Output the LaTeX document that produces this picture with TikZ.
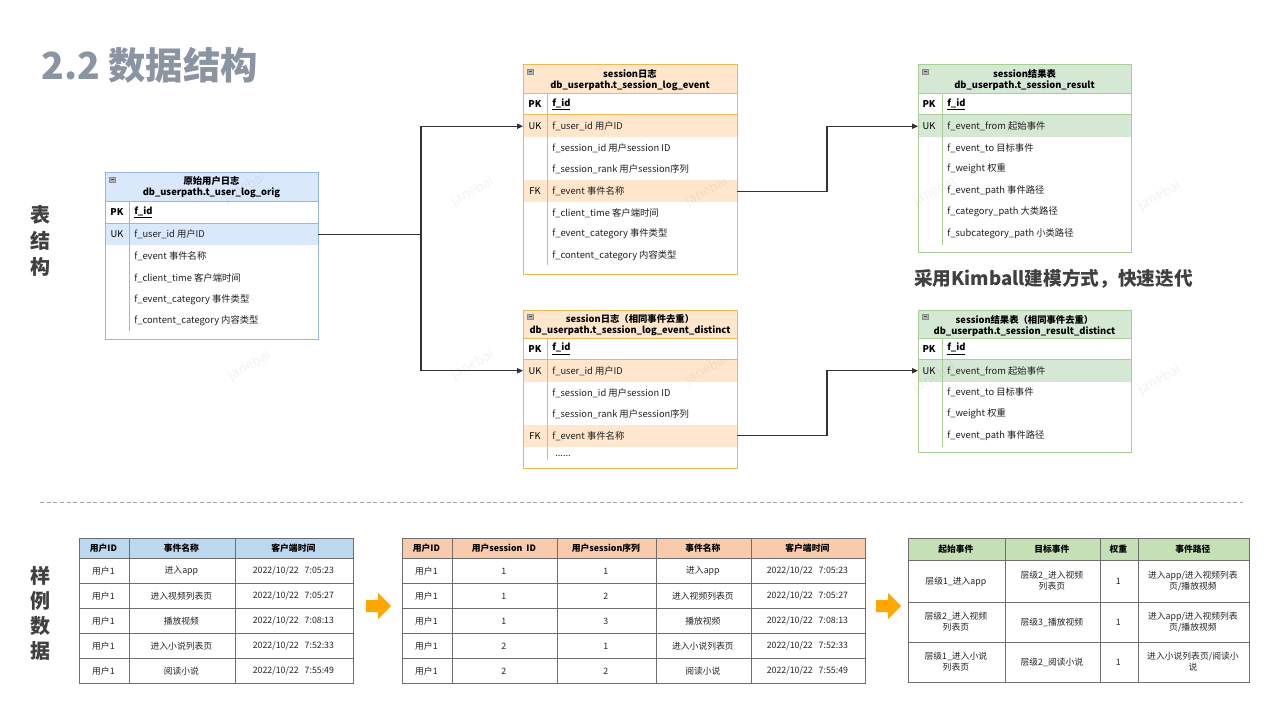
\documentclass[tikz,border=0pt]{standalone}
\usepackage{fontspec}
\setmainfont{Noto Sans CJK SC}
\usetikzlibrary{arrows.meta,fit,matrix,calc}

\definecolor{titlegray}{RGB}{138,149,161}
\definecolor{labelgray}{RGB}{64,64,64}
\definecolor{bluefill}{RGB}{218,232,252}
\definecolor{bluedraw}{RGB}{150,182,228}
\definecolor{orangefill}{RGB}{255,230,204}
\definecolor{orangedraw}{RGB}{236,184,84}
\definecolor{greenfill}{RGB}{213,232,212}
\definecolor{greendraw}{RGB}{168,208,150}
\definecolor{connc}{RGB}{51,51,51}
\definecolor{hdrblue}{RGB}{189,215,238}
\definecolor{hdrorange}{RGB}{248,203,173}
\definecolor{hdrgreen}{RGB}{197,224,180}
\definecolor{gridc}{RGB}{110,110,110}
\definecolor{arroworange}{RGB}{255,166,0}
\definecolor{dashc}{RGB}{160,160,160}

% two centred lines inside one table cell
\newcommand\twoln[2]{\begin{tabular}{@{}c@{}}#1\\#2\end{tabular}}

\tikzset{
  ertitle/.style={font=\fontsize{7}{8.3}\selectfont\bfseries, align=center, text=black, inner sep=0},
  keylbl/.style={font=\fontsize{7}{8}\selectfont, text=black, inner sep=0},
  pklbl/.style={font=\fontsize{7}{8}\selectfont\bfseries, text=black, inner sep=0},
  field/.style={font=\fontsize{7}{8}\selectfont, text=black!88, anchor=west, inner sep=0},
  idfield/.style={font=\fontsize{7}{8}\selectfont\bfseries, text=black, anchor=west, inner sep=0},
  band/.style={inner sep=0, outer sep=0, draw=none},
  bline/.style={line width=0.75pt},
  conn/.style={draw=connc, line width=0.8pt, -{Triangle[length=4.5pt,width=4pt]}},
  minusicon/.style={fill=black!30, draw=black!45, line width=0.3pt},
  cell/.style={draw=gridc, line width=0.6pt, inner sep=1pt, outer sep=0, anchor=center,
    align=center, font=\fontsize{6.6}{8.2}\selectfont, text=black!85,
    minimum height=18.75pt},
  hdrcell/.style={font=\fontsize{6.6}{8.2}\selectfont\bfseries, text=black},
  datatable/.style={matrix of nodes, anchor=north west, inner sep=0pt, outer sep=0pt,
    nodes={cell}, column sep=-0.6pt, row sep=-0.6pt},
  sidelbl/.style={align=center, font=\fontsize{15}{19.5}\selectfont\bfseries, text=labelgray, inner sep=0},
  wm/.style={font=\fontsize{10}{12}\selectfont, text=black, text opacity=0.05, rotate=29, inner sep=0},
}

\begin{document}
\begin{tikzpicture}[x=0.75pt, y=-0.75pt]
\useasboundingbox (0,0) rectangle (1280,720);
\fill[white] (0,0) rectangle (1280,720);

% ---------- headings ----------
\node[anchor=west, font=\fontsize{28}{32}\selectfont\bfseries, text=titlegray, inner sep=0] (title) at (41,65) {2.2 数据结构};
\node[sidelbl] (lblA) at (40,241) {表\\结\\构};
\node[sidelbl, font=\fontsize{15}{18.75}\selectfont\bfseries] (lblB) at (40,613) {样\\例\\数\\据};
\node[anchor=west, font=\fontsize{14}{16}\selectfont\bfseries, text=labelgray, inner sep=0] (kimball) at (914,279) {采用Kimball建模方式，快速迭代};

% ---------- table: raw user log ----------
\fill[bluefill] (105,173) rectangle (318,202);
\node[band, fill=bluefill, fit={(105,224) (318,245)}] (L-uk) {};
\draw[bluedraw, bline] (105,173) rectangle (318,339);
\draw[bluedraw, bline] (105,202) -- (318,202) (105,223.5) -- (318,223.5) (129,202) -- (129,331);
\draw[minusicon] (109,177) rectangle (115,182);
\draw[black!70, line width=0.4pt] (110.5,179.5) -- (113.5,179.5);
\node[ertitle] (L-h) at (211.5,187.5) {原始用户日志\\db\_userpath.t\_user\_log\_orig};
\node[pklbl] (L-pk) at (117,212.5) {PK};
\node[idfield] (L-id) at (134,212.5) {\underline{f\_id}};
\node[keylbl] (L-ukl) at (117,234.5) {UK};
\node[field] (L-f1) at (134,234.5) {f\_user\_id 用户ID};
\node[field] (L-f2) at (134,256) {f\_event 事件名称};
\node[field] (L-f3) at (134,278) {f\_client\_time 客户端时间};
\node[field] (L-f4) at (134,299.5) {f\_event\_category 事件类型};
\node[field] (L-f5) at (134,321) {f\_content\_category 内容类型};

% ---------- table: session log ----------
\fill[orangefill] (523,65) rectangle (737,94);
\node[band, fill=orangefill, fit={(523,115.5) (737,137)}] (M1-uk) {};
\node[band, fill=orangefill, fit={(523,180.5) (737,202)}] (M1-fk) {};
\draw[orangedraw, bline] (523,65) rectangle (737,274);
\draw[orangedraw, bline] (523,94) -- (737,94) (523,115) -- (737,115) (547,94) -- (547,265);
\draw[minusicon] (527,69) rectangle (533,74);
\draw[black!70, line width=0.4pt] (528.5,71.5) -- (531.5,71.5);
\node[ertitle] (M1-h) at (630,80) {session日志\\db\_userpath.t\_session\_log\_event};
\node[pklbl] (M1-pk) at (535,104.5) {PK};
\node[idfield] (M1-id) at (552,104.5) {\underline{f\_id}};
\node[keylbl] (M1-ukl) at (535,126) {UK};
\node[field] (M1-f1) at (552,126) {f\_user\_id 用户ID};
\node[field] (M1-f2) at (552,148) {f\_session\_id 用户session ID};
\node[field] (M1-f3) at (552,169) {f\_session\_rank 用户session序列};
\node[keylbl] (M1-fkl) at (535,191) {FK};
\node[field] (M1-f4) at (552,191) {f\_event 事件名称};
\node[field] (M1-f5) at (552,213) {f\_client\_time 客户端时间};
\node[field] (M1-f6) at (552,234) {f\_event\_category 事件类型};
\node[field] (M1-f7) at (552,256) {f\_content\_category 内容类型};

% ---------- table: session log, duplicates removed ----------
\fill[orangefill] (523,310) rectangle (737,338);
\node[band, fill=orangefill, fit={(523,360) (737,381.5)}] (M2-uk) {};
\node[band, fill=orangefill, fit={(523,425) (737,446.5)}] (M2-fk) {};
\draw[orangedraw, bline] (523,310) rectangle (737,468);
\draw[orangedraw, bline] (523,338) -- (737,338) (523,359.5) -- (737,359.5) (547,338) -- (547,460);
\draw[minusicon] (527,314) rectangle (533,319);
\draw[black!70, line width=0.4pt] (528.5,316.5) -- (531.5,316.5);
\node[ertitle] (M2-h) at (630,325.5) {session日志（相同事件去重）\\db\_userpath.t\_session\_log\_event\_distinct};
\node[pklbl] (M2-pk) at (535,349) {PK};
\node[idfield] (M2-id) at (552,349) {\underline{f\_id}};
\node[keylbl] (M2-ukl) at (535,371) {UK};
\node[field] (M2-f1) at (552,371) {f\_user\_id 用户ID};
\node[field] (M2-f2) at (552,393) {f\_session\_id 用户session ID};
\node[field] (M2-f3) at (552,414) {f\_session\_rank 用户session序列};
\node[keylbl] (M2-fkl) at (535,436) {FK};
\node[field] (M2-f4) at (552,436) {f\_event 事件名称};
\node[field] (M2-f5) at (555,456) {......};

% ---------- table: session result ----------
\fill[greenfill] (918,65) rectangle (1131,94);
\node[band, fill=greenfill, fit={(918,115.5) (1131,137)}] (R1-uk) {};
\draw[greendraw, bline] (918,65) rectangle (1131,252);
\draw[greendraw, bline] (918,94) -- (1131,94) (918,115) -- (1131,115) (942,94) -- (942,245);
\draw[minusicon] (922,69) rectangle (928,74);
\draw[black!70, line width=0.4pt] (923.5,71.5) -- (926.5,71.5);
\node[ertitle] (R1-h) at (1024.5,80) {session结果表\\db\_userpath.t\_session\_result};
\node[pklbl] (R1-pk) at (929,104.5) {PK};
\node[idfield] (R1-id) at (947,104.5) {\underline{f\_id}};
\node[keylbl] (R1-ukl) at (929,126) {UK};
\node[field] (R1-f1) at (947,126) {f\_event\_from 起始事件};
\node[field] (R1-f2) at (947,148) {f\_event\_to 目标事件};
\node[field] (R1-f3) at (947,169) {f\_weight 权重};
\node[field] (R1-f4) at (947,191) {f\_event\_path 事件路径};
\node[field] (R1-f5) at (947,212) {f\_category\_path 大类路径};
\node[field] (R1-f6) at (947,234) {f\_subcategory\_path 小类路径};

% ---------- table: session result, duplicates removed ----------
\fill[greenfill] (918,310) rectangle (1131,338);
\node[band, fill=greenfill, fit={(918,360) (1131,381.5)}] (R2-uk) {};
\draw[greendraw, bline] (918,310) rectangle (1131,452);
\draw[greendraw, bline] (918,338) -- (1131,338) (918,359.5) -- (1131,359.5) (942,338) -- (942,447);
\draw[minusicon] (922,314) rectangle (928,319);
\draw[black!70, line width=0.4pt] (923.5,316.5) -- (926.5,316.5);
\node[ertitle] (R2-h) at (1024.5,325.5) {session结果表（相同事件去重）\\db\_userpath.t\_session\_result\_distinct};
\node[pklbl] (R2-pk) at (929,349) {PK};
\node[idfield] (R2-id) at (947,349) {\underline{f\_id}};
\node[keylbl] (R2-ukl) at (929,371) {UK};
\node[field] (R2-f1) at (947,371) {f\_event\_from 起始事件};
\node[field] (R2-f2) at (947,392) {f\_event\_to 目标事件};
\node[field] (R2-f3) at (947,414) {f\_weight 权重};
\node[field] (R2-f4) at (947,436) {f\_event\_path 事件路径};

% ---------- relations ----------
\draw[conn] (L-uk.east) -- ++(103,0) |- (M1-uk.west);
\draw[conn] (L-uk.east) -- ++(103,0) |- (M2-uk.west);
\draw[conn] (M1-fk.east) -- ++(90,0) |- (R1-uk.west);
\draw[conn] (M2-fk.east) -- ++(90,0) |- (R2-uk.west);

% ---------- separator ----------
\draw[dashc, line width=0.6pt, dash pattern=on 3pt off 2pt] (40,502) -- (1243,502);

% ---------- sample data: raw log ----------
\matrix (T1) [datatable,
  column 1/.style={nodes={minimum width=37.5pt}},
  column 2/.style={nodes={minimum width=79.5pt}},
  column 3/.style={nodes={minimum width=88.5pt}},
  row 1/.style={nodes={fill=hdrblue, hdrcell, minimum height=15pt}}]
  at (79,538) {
  用户ID & 事件名称 & 客户端时间 \\
  用户1 & 进入app & 2022/10/22\ \ \ 7:05:23 \\
  用户1 & 进入视频列表页 & 2022/10/22\ \ \ 7:05:27 \\
  用户1 & 播放视频 & 2022/10/22\ \ \ 7:08:13 \\
  用户1 & 进入小说列表页 & 2022/10/22\ \ \ 7:52:33 \\
  用户1 & 阅读小说 & 2022/10/22\ \ \ 7:55:49 \\
};

% ---------- sample data: session log ----------
\matrix (T2) [datatable,
  column 1/.style={nodes={minimum width=37.5pt}},
  column 2/.style={nodes={minimum width=78.75pt}},
  column 3/.style={nodes={minimum width=74.25pt}},
  column 4/.style={nodes={minimum width=71.25pt}},
  column 5/.style={nodes={minimum width=85.5pt}},
  row 1/.style={nodes={fill=hdrorange, hdrcell, minimum height=15pt}}]
  at (402,538) {
  用户ID & 用户session\ \ ID & 用户session序列 & 事件名称 & 客户端时间 \\
  用户1 & 1 & 1 & 进入app & 2022/10/22\ \ \ 7:05:23 \\
  用户1 & 1 & 2 & 进入视频列表页 & 2022/10/22\ \ \ 7:05:27 \\
  用户1 & 1 & 3 & 播放视频 & 2022/10/22\ \ \ 7:08:13 \\
  用户1 & 2 & 1 & 进入小说列表页 & 2022/10/22\ \ \ 7:52:33 \\
  用户1 & 2 & 2 & 阅读小说 & 2022/10/22\ \ \ 7:55:49 \\
};

% ---------- sample data: session result ----------
\matrix (T3) [datatable,
  column 1/.style={nodes={minimum width=72.75pt}},
  column 2/.style={nodes={minimum width=71.25pt}},
  column 3/.style={nodes={minimum width=28.5pt}},
  column 4/.style={nodes={minimum width=83.25pt}},
  row 1/.style={nodes={fill=hdrgreen, hdrcell, minimum height=16.5pt}},
  row 2/.style={nodes={minimum height=31.5pt}},
  row 3/.style={nodes={minimum height=30pt}},
  row 4/.style={nodes={minimum height=30pt}}]
  at (908,538) {
  起始事件 & 目标事件 & 权重 & 事件路径 \\
  层级1\_进入app & \twoln{层级2\_进入视频}{列表页} & 1 & \twoln{进入app/进入视频列表}{页/播放视频} \\
  \twoln{层级2\_进入视频}{列表页} & 层级3\_播放视频 & 1 & \twoln{进入app/进入视频列表}{页/播放视频} \\
  \twoln{层级1\_进入小说}{列表页} & 层级2\_阅读小说 & 1 & \twoln{进入小说列表页/阅读小}{说} \\
};

% ---------- flow arrows between samples ----------
\fill[arroworange] (366,600) -- (378,600) -- (378,593) -- (391,606) -- (378,619) -- (378,612) -- (366,612) -- cycle;
\fill[arroworange] (876,600) -- (888,600) -- (888,593) -- (901,606) -- (888,619) -- (888,612) -- (876,612) -- cycle;

% ---------- watermark ----------
\foreach \wx/\wy [count=\k] in {245/188, 473/192, 707/192, 935/192, 1160/196, 250/366, 473/365, 707/370, 935/378, 1160/380}
  \node[wm] (wm\k) at (\wx,\wy) {janebai};
\end{tikzpicture}
\end{document}
